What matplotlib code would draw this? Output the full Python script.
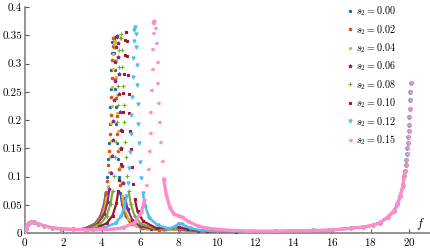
import numpy as np
import matplotlib
matplotlib.use("Agg")
import matplotlib.pyplot as plt
from matplotlib.collections import LineCollection
from matplotlib.ticker import FuncFormatter

# ======================================================================
# Datos
# ======================================================================

# tramo comun a todas las curvas (f bajo y f alto)
F_LOW = [0.0, 0.05, 0.12, 0.2, 0.3, 0.45, 0.7, 1.0, 1.4, 1.9, 2.5]
Y_LOW = [0.0, 0.007, 0.014, 0.018, 0.020, 0.0195, 0.017, 0.013, 0.010, 0.008, 0.007]
F_HIGH = [15.0, 16.0, 17.0, 17.6, 18.1, 18.5, 18.9, 19.2, 19.4, 19.55, 19.67,
          19.76, 19.80, 19.83, 19.86, 19.89, 19.915, 19.94, 19.96, 19.98, 20.0,
          20.02, 20.035, 20.05, 20.065, 20.08]
Y_HIGH = [0.005, 0.006, 0.009, 0.011, 0.014, 0.019, 0.029, 0.039, 0.051, 0.066, 0.083,
          0.101, 0.110, 0.120, 0.130, 0.140, 0.150, 0.160, 0.170, 0.180, 0.192,
          0.205, 0.220, 0.235, 0.250, 0.265]

# zona de resonancia de cada curva
f_s00 = [3.06, 3.63, 3.915, 4.105, 4.2, 4.276, 4.333, 4.371, 4.409, 4.438, 4.466, 4.495,
         4.523, 4.552, 4.58, 4.609, 4.637, 4.666, 4.694, 4.723, 4.751, 4.789, 4.827,
         4.884, 4.96, 5.055, 5.245, 5.53, 6.1, 7.0, 8.0, 9.0, 11.0, 13.0]
y_s00 = [0.008, 0.017, 0.030, 0.051, 0.072, 0.100, 0.131, 0.159, 0.193, 0.223, 0.255, 0.289,
         0.318, 0.338, 0.346, 0.338, 0.318, 0.289, 0.255, 0.223, 0.193, 0.159, 0.131,
         0.100, 0.072, 0.051, 0.030, 0.017, 0.009, 0.006, 0.006, 0.004, 0.003, 0.0035]

f_s02 = [3.09, 3.66, 3.945, 4.135, 4.23, 4.287, 4.344, 4.382, 4.42, 4.454, 4.483, 4.511,
         4.54, 4.568, 4.597, 4.625, 4.654, 4.682, 4.711, 4.739, 4.768, 4.8, 4.838,
         4.886, 4.952, 5.047, 5.18, 5.465, 6.13, 7.0, 8.0, 9.0, 11.0, 13.0]
y_s02 = [0.008, 0.017, 0.030, 0.051, 0.073, 0.092, 0.120, 0.145, 0.176, 0.209, 0.241, 0.274,
         0.306, 0.331, 0.345, 0.345, 0.330, 0.304, 0.272, 0.239, 0.207, 0.176, 0.145,
         0.114, 0.085, 0.059, 0.038, 0.020, 0.009, 0.006, 0.006, 0.004, 0.003, 0.0035]

f_s04 = [3.14, 3.71, 3.995, 4.147, 4.242, 4.318, 4.375, 4.423, 4.461, 4.495, 4.523, 4.552,
         4.58, 4.609, 4.637, 4.666, 4.694, 4.723, 4.751, 4.78, 4.808, 4.841, 4.879,
         4.926, 4.983, 5.059, 5.173, 5.382, 5.8, 6.37, 7.2, 8.0, 9.0, 11.0, 13.0]
y_s04 = [0.008, 0.017, 0.029, 0.045, 0.062, 0.083, 0.108, 0.135, 0.164, 0.195, 0.225, 0.258,
         0.290, 0.317, 0.335, 0.340, 0.330, 0.307, 0.277, 0.245, 0.213, 0.181, 0.149,
         0.118, 0.090, 0.066, 0.045, 0.026, 0.013, 0.008, 0.006, 0.006, 0.004, 0.003, 0.0035]

f_s06 = [3.18, 3.78, 4.14, 4.30, 4.40, 4.47, 4.526, 4.566, 4.604, 4.64, 4.67, 4.70,
         4.73, 4.76, 4.79, 4.82, 4.85, 4.88, 4.91, 4.94, 4.974, 5.014, 5.064,
         5.13, 5.22, 5.34, 5.58, 5.98, 6.58, 7.3, 8.0, 9.0, 11.0, 13.0]
y_s06 = [0.008, 0.017, 0.035, 0.055, 0.079, 0.106, 0.137, 0.165, 0.199, 0.236, 0.270, 0.302,
         0.330, 0.347, 0.349, 0.337, 0.312, 0.281, 0.247, 0.215, 0.182, 0.150, 0.119,
         0.089, 0.063, 0.043, 0.024, 0.013, 0.008, 0.007, 0.007, 0.004, 0.003, 0.0035]

f_s08 = [3.30, 3.93, 4.245, 4.455, 4.56, 4.644, 4.707, 4.749, 4.791, 4.823, 4.854, 4.886,
         4.917, 4.949, 4.98, 5.012, 5.043, 5.075, 5.106, 5.138, 5.169, 5.211, 5.253,
         5.316, 5.4, 5.505, 5.715, 6.03, 6.66, 7.3, 8.0, 8.6, 9.5, 11.0, 13.0]
y_s08 = [0.008, 0.017, 0.030, 0.052, 0.074, 0.102, 0.134, 0.162, 0.197, 0.227, 0.261, 0.294,
         0.324, 0.345, 0.353, 0.345, 0.324, 0.294, 0.261, 0.227, 0.197, 0.162, 0.134,
         0.102, 0.074, 0.052, 0.030, 0.017, 0.009, 0.007, 0.008, 0.006, 0.004, 0.003, 0.0035]

f_s10 = [3.66, 4.26, 4.56, 4.76, 4.86, 4.92, 4.98, 5.02, 5.06, 5.096, 5.126, 5.156,
         5.186, 5.216, 5.246, 5.276, 5.306, 5.336, 5.366, 5.396, 5.426, 5.46, 5.5,
         5.55, 5.62, 5.72, 5.86, 6.16, 6.86, 7.5, 8.0, 8.5, 9.5, 11.0, 13.0]
y_s10 = [0.008, 0.018, 0.031, 0.053, 0.075, 0.095, 0.123, 0.149, 0.181, 0.215, 0.248, 0.282,
         0.315, 0.341, 0.355, 0.355, 0.339, 0.313, 0.280, 0.246, 0.213, 0.181, 0.149,
         0.118, 0.087, 0.060, 0.039, 0.021, 0.009, 0.009, 0.011, 0.007, 0.004, 0.003, 0.0035]

f_s12 = [3.2, 4.12, 4.72, 5.02, 5.18, 5.28, 5.36, 5.42, 5.47, 5.51, 5.546, 5.576, 5.606,
         5.636, 5.666, 5.696, 5.726, 5.756, 5.786, 5.816, 5.846, 5.876, 5.91, 5.95,
         6.0, 6.06, 6.14, 6.26, 6.48, 6.92, 7.52, 7.8, 8.0, 8.2, 8.6, 9.2, 10.0, 11.5, 13.0]
y_s12 = [0.006, 0.010, 0.018, 0.031, 0.048, 0.066, 0.089, 0.115, 0.144, 0.175, 0.209, 0.241, 0.276,
         0.310, 0.340, 0.359, 0.364, 0.353, 0.329, 0.297, 0.262, 0.228, 0.193, 0.159,
         0.126, 0.097, 0.071, 0.048, 0.027, 0.014, 0.008, 0.012, 0.017, 0.016, 0.009, 0.005, 0.004, 0.003, 0.0035]

f_s15 = [3.5, 4.5, 5.1, 5.7, 6.06, 6.22, 6.32, 6.39, 6.446, 6.486, 6.524, 6.56, 6.59, 6.62,
         6.65, 6.68, 6.715, 6.76, 6.805, 6.85, 6.895, 6.94, 6.991, 7.051, 7.126,
         7.225, 7.36, 7.54, 7.75, 8.0, 8.2, 8.5, 9.0, 9.5, 10.5, 11.7, 13.0]
y_s15 = [0.006, 0.007, 0.010, 0.018, 0.037, 0.059, 0.085, 0.113, 0.146, 0.177, 0.214, 0.254, 0.290, 0.325,
         0.354, 0.372, 0.375, 0.362, 0.336, 0.302, 0.266, 0.231, 0.196, 0.161, 0.128,
         0.096, 0.068, 0.046, 0.034, 0.031, 0.028, 0.021, 0.013, 0.009, 0.0055, 0.004, 0.0038]

s2_labels = ['0.00', '0.02', '0.04', '0.06', '0.08', '0.10', '0.12', '0.15']
f_mid = [f_s00, f_s02, f_s04, f_s06, f_s08, f_s10, f_s12, f_s15]
y_mid = [y_s00, y_s02, y_s04, y_s06, y_s08, y_s10, y_s12, y_s15]

colores = ['#0072BD', '#D95319', '#EDB120', '#7E2F8E', '#77AC30', '#A2142F', '#4DBEEE', '#FF8CC6']
marcadores = ['.', 'o', '.', '*', '+', 's', 'v', '<']
tam = [3.2, 1.8, 3.0, 2.6, 2.8, 2.0, 2.3, 2.1]
grosor = [1.4, 1.5, 1.3, 1.5, 1.5, 1.6, 1.8, 2.4]

# ======================================================================
# Grafica
# ======================================================================

plt.rcParams['font.family'] = 'serif'
plt.rcParams['font.serif'] = ['cmr10']
plt.rcParams['mathtext.fontset'] = 'cm'
plt.rcParams['axes.formatter.use_mathtext'] = True

fig = plt.figure(figsize=(4.31, 2.49), dpi=100)
ax = fig.add_axes([0.058, 0.063, 0.94, 0.909])

for i in range(len(s2_labels)):
    f = np.array(F_LOW + f_mid[i] + F_HIGH)
    y = np.array(Y_LOW + y_mid[i] + Y_HIGH)
    pts = np.column_stack([f, y])
    segs = np.stack([pts[:-1], pts[1:]], axis=1)
    # donde la pendiente es baja los puntos se solapan y forman una banda continua
    plano = np.abs(np.diff(y) / np.diff(f)) < 0.25
    ax.add_collection(LineCollection(segs[plano], colors=colores[i], linewidths=grosor[i],
                                     capstyle='round', zorder=2 + i))
    ax.plot(f, y, ls='none', marker=marcadores[i], ms=tam[i], mew=0.8,
            color=colores[i], zorder=2 + i, label=r'$s_2 = %s$' % s2_labels[i])

ax.set_xlim(0, 21.1)
ax.set_ylim(0, 0.4)
ax.set_xticks(np.arange(0, 21, 2))
ax.set_yticks(np.arange(0, 0.401, 0.05))
ax.yaxis.set_major_formatter(FuncFormatter(lambda v, p: '%g' % round(v, 2)))
ax.tick_params(direction='in', length=3, width=0.8, labelsize=8, pad=2, colors='#555555',
               labelcolor='black')
for lado in ['top', 'right']:
    ax.spines[lado].set_visible(False)
for lado in ['left', 'bottom']:
    ax.spines[lado].set_color('#777777')
    ax.spines[lado].set_linewidth(1.1)

ax.text(20.6, 0.016, r'$f$', fontsize=9, ha='center', va='center')

ax.legend(loc='upper left', bbox_to_anchor=(0.808, 0.982), bbox_transform=fig.transFigure,
          frameon=False, fontsize=7.3, handlelength=0.4, handletextpad=0.35,
          labelspacing=0.46, borderaxespad=0, borderpad=0, markerscale=1.0)

fig.savefig('out.png', dpi=100)
